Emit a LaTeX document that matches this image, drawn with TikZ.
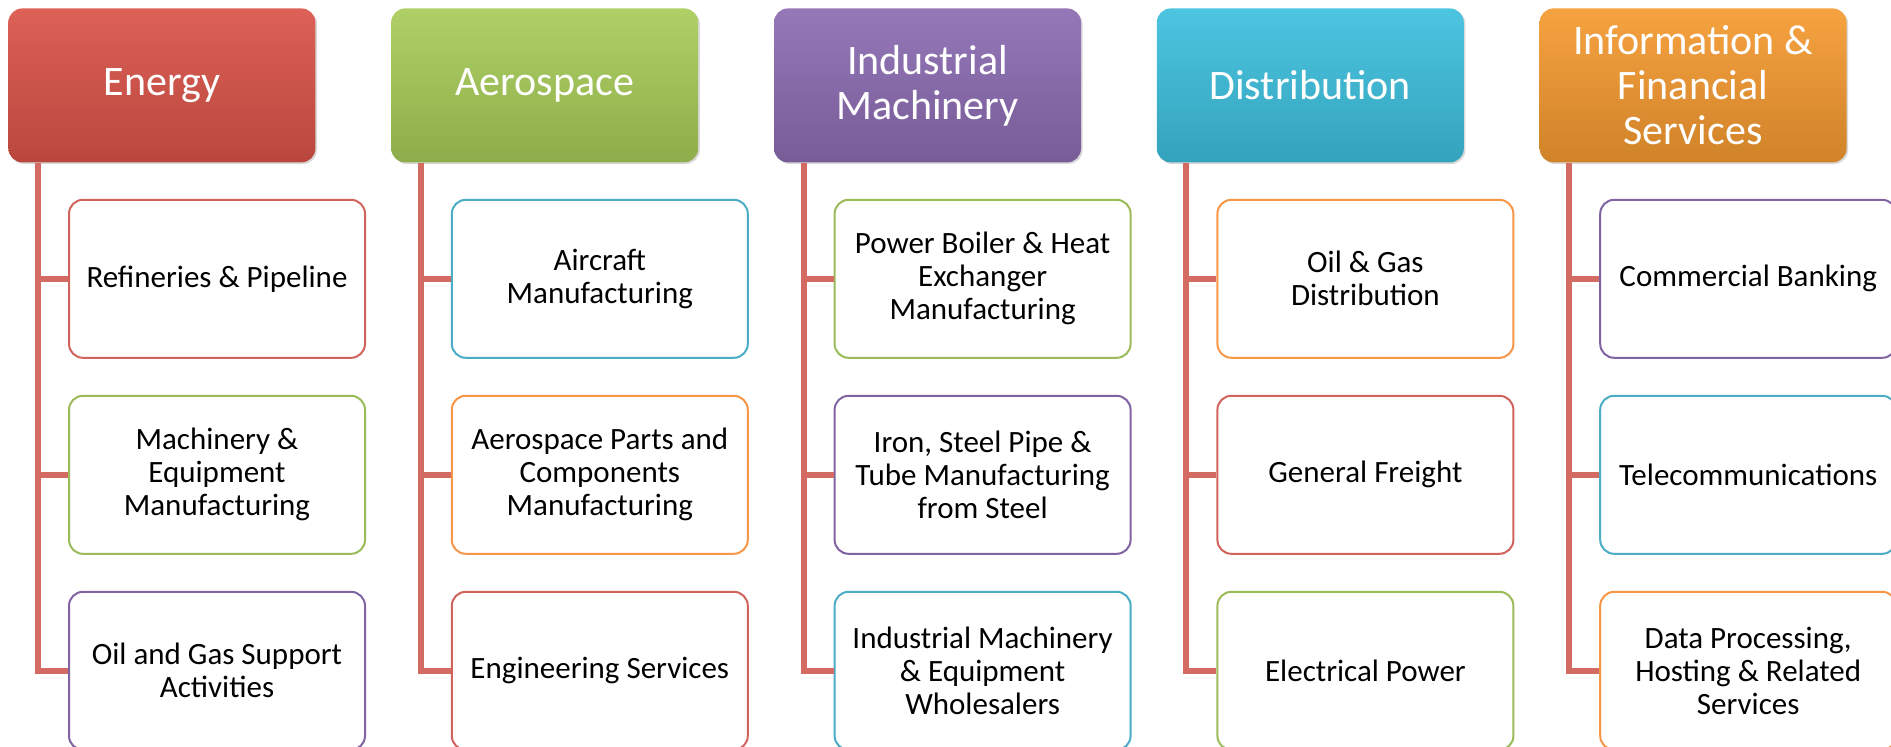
\documentclass[tikz,border=0pt]{standalone}
\usepackage{fontspec}
\setmainfont{Carlito}
\usetikzlibrary{positioning, shadows}
\definecolor{enred}{HTML}{DA5348}
\definecolor{aegreen}{HTML}{A8CC58}
\definecolor{impurple}{HTML}{8C6CB2}
\definecolor{diaqua}{HTML}{3DC0DE}
\definecolor{iforange}{HTML}{F59A30}
\definecolor{bdred}{HTML}{D0645C}
\definecolor{bdgreen}{HTML}{9BBB59}
\definecolor{bdpurple}{HTML}{8064A2}
\definecolor{bdaqua}{HTML}{4BACC6}
\definecolor{bdorange}{HTML}{F79646}
\definecolor{linkred}{HTML}{D36B62}
\tikzset{
    header/.style={rectangle, rounded corners=7pt, text=white, align=center, minimum width=153.5pt, minimum height=77pt,
        top color=#1!92!white, bottom color=#1!85!black, font=\fontsize{21}{22.5}\selectfont,
        drop shadow={opacity=0.3, shadow xshift=0.8pt, shadow yshift=-0.8pt}},
    item/.style={rectangle, rounded corners=7pt, draw=#1, line width=1pt, fill=white, align=center,
        minimum width=148pt, minimum height=79pt, font=\fontsize{15.5}{16.5}\selectfont},
    link/.style={line width=3pt, draw=linkred}
}
\begin{document}
\begin{tikzpicture}[x=0.5pt, y=-0.5pt]
    \useasboundingbox (0,0) rectangle (1891,746);

    % Headers
    \node (EN) [header=enred, anchor=north west] at (8,8) {Energy};
    \node (AE) [header=aegreen, right=37.5pt of EN] {Aerospace};
    \node (IM) [header=impurple, right=37.5pt of AE] {Industrial\\Machinery};
    \node (DI) [header=diaqua, right=37.5pt of IM] {Distribution};
    \node (IF) [header=iforange, right=37.5pt of DI] {Information \&\\Financial\\Services};

    % Energy
    \node (EN1) [item=bdred, below=18pt of EN.south west, anchor=north west, xshift=30pt] {Refineries \& Pipeline};
    \node (EN2) [item=bdgreen, below=18pt of EN1] {Machinery \&\\Equipment\\Manufacturing};
    \node (EN3) [item=bdpurple, below=18pt of EN2] {Oil and Gas Support\\Activities};

    % Aerospace
    \node (AE1) [item=bdaqua, below=18pt of AE.south west, anchor=north west, xshift=30pt] {Aircraft\\Manufacturing};
    \node (AE2) [item=bdorange, below=18pt of AE1] {Aerospace Parts and\\Components\\Manufacturing};
    \node (AE3) [item=bdred, below=18pt of AE2] {Engineering Services};

    % Industrial Machinery
    \node (IM1) [item=bdgreen, below=18pt of IM.south west, anchor=north west, xshift=30pt] {Power Boiler \& Heat\\Exchanger\\Manufacturing};
    \node (IM2) [item=bdpurple, below=18pt of IM1] {Iron, Steel Pipe \&\\Tube Manufacturing\\from Steel};
    \node (IM3) [item=bdaqua, below=18pt of IM2] {Industrial Machinery\\\& Equipment\\Wholesalers};

    % Distribution
    \node (DI1) [item=bdorange, below=18pt of DI.south west, anchor=north west, xshift=30pt] {Oil \& Gas\\Distribution};
    \node (DI2) [item=bdred, below=18pt of DI1] {General Freight};
    \node (DI3) [item=bdgreen, below=18pt of DI2] {Electrical Power};

    % Information & Financial Services
    \node (IF1) [item=bdpurple, below=18pt of IF.south west, anchor=north west, xshift=30pt] {Commercial Banking};
    \node (IF2) [item=bdaqua, below=18pt of IF1] {Telecommunications};
    \node (IF3) [item=bdorange, below=18pt of IF2] {Data Processing,\\Hosting \& Related\\Services};

    % Connectors
    \draw [link] ([xshift=15pt]EN.south west) |- (EN1.west);
    \draw [link] ([xshift=15pt]EN.south west) |- (EN2.west);
    \draw [link] ([xshift=15pt]EN.south west) |- (EN3.west);
    \draw [link] ([xshift=15pt]AE.south west) |- (AE1.west);
    \draw [link] ([xshift=15pt]AE.south west) |- (AE2.west);
    \draw [link] ([xshift=15pt]AE.south west) |- (AE3.west);
    \draw [link] ([xshift=15pt]IM.south west) |- (IM1.west);
    \draw [link] ([xshift=15pt]IM.south west) |- (IM2.west);
    \draw [link] ([xshift=15pt]IM.south west) |- (IM3.west);
    \draw [link] ([xshift=15pt]DI.south west) |- (DI1.west);
    \draw [link] ([xshift=15pt]DI.south west) |- (DI2.west);
    \draw [link] ([xshift=15pt]DI.south west) |- (DI3.west);
    \draw [link] ([xshift=15pt]IF.south west) |- (IF1.west);
    \draw [link] ([xshift=15pt]IF.south west) |- (IF2.west);
    \draw [link] ([xshift=15pt]IF.south west) |- (IF3.west);
\end{tikzpicture}
\end{document}
